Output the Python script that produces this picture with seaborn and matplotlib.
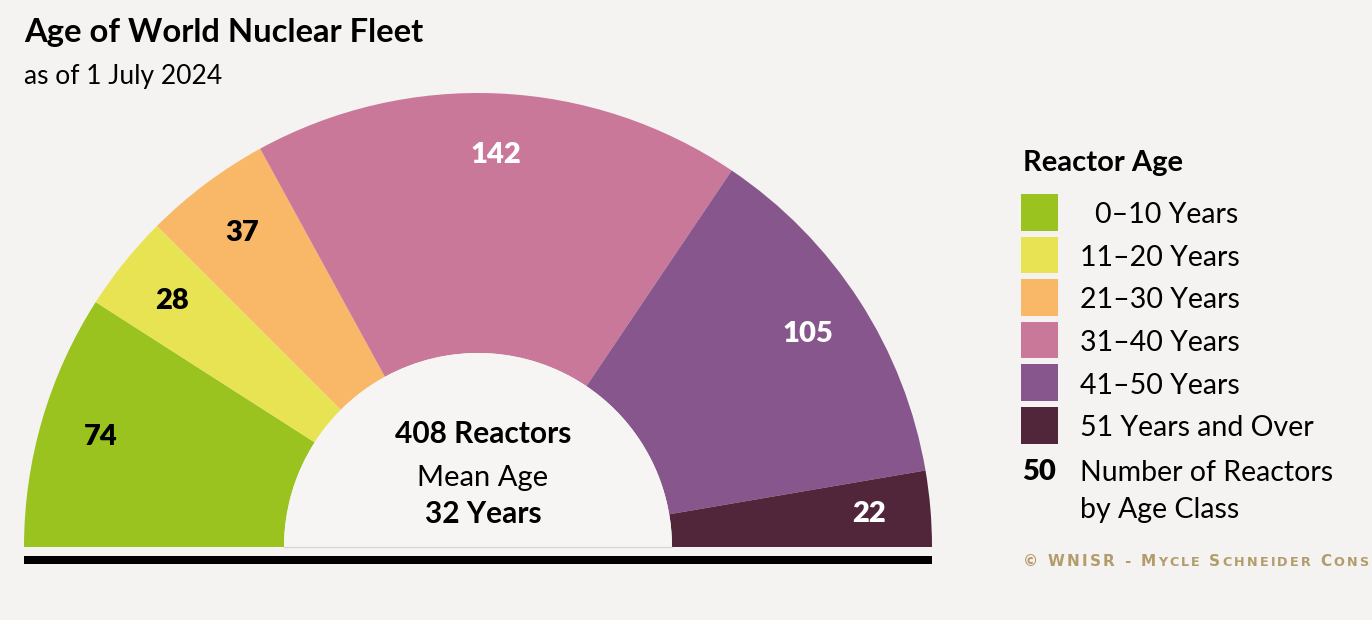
import matplotlib
matplotlib.use("Agg")
import matplotlib.pyplot as plt
from matplotlib.patches import Rectangle, Wedge
import numpy as np
import seaborn as sns

# data
age_classes = ["0–10 Years", "11–20 Years", "21–30 Years", "31–40 Years",
               "41–50 Years", "51 Years and Over"]
reactor_counts = [74, 28, 37, 142, 105, 22]
mean_age = 32
class_colors = ["#9bc31f", "#e8e352", "#f8b868", "#c97899", "#87568c", "#52263a"]
label_colors = ["black", "black", "black", "white", "white", "white"]

BG = "#f4f3f1"
GOLD = "#b39c6b"
W, H = 1372, 620

sns.set_theme(style="white")
plt.rcParams["font.family"] = ["Lato", "DejaVu Sans"]


def py(y):
    # pixel row (from top) -> data y
    return H - y


fig = plt.figure(figsize=(W / 100, H / 100), dpi=100, facecolor=BG)
ax = fig.add_axes([0, 0, 1, 1])
ax.set_facecolor(BG)

total = sum(reactor_counts)
cx, cy = 478, py(547)
r_out, r_in = 454, 194

wedges, _ = ax.pie(reactor_counts + [total], colors=class_colors + [BG],
                   startangle=180, counterclock=False, radius=r_out,
                   center=(cx, cy), frame=True,
                   wedgeprops=dict(width=r_out - r_in, linewidth=0))
wedges[-1].set_visible(False)

# inner half disc and baseline
ax.add_patch(Wedge((cx, cy), r_in, 0, 180, facecolor="#f6f5f3", edgecolor="none"))
ax.plot([cx - r_in, cx + r_in], [cy, cy], color="#d8d7d4", lw=1)
ax.add_patch(Rectangle((cx - r_out, py(564)), 2 * r_out, 8.5, color="black", lw=0))

for w, n, c in zip(wedges[:-1], reactor_counts, label_colors):
    ang = np.deg2rad((w.theta1 + w.theta2) / 2)
    rr = 0.865 * r_out
    ax.text(cx + rr * np.cos(ang), cy + rr * np.sin(ang), str(n), color=c,
            fontsize=21, fontweight="heavy", ha="center", va="center")

ax.text(483, py(434), f"{total} Reactors", fontsize=21.5, fontweight="bold",
        ha="center", va="center", color="black")
ax.text(483, py(478), "Mean Age", fontsize=21, fontweight="normal",
        ha="center", va="center", color="black")
ax.text(483, py(514), f"{mean_age} Years", fontsize=21.5, fontweight="bold",
        ha="center", va="center", color="black")

# titles
ax.text(24, py(42), "Age of World Nuclear Fleet", fontsize=23.6, fontweight="bold",
        ha="left", va="baseline", color="black")
ax.text(24, py(84), "as of 1 July 2024", fontsize=19, ha="left", va="baseline",
        color="black")

# legend
ax.text(1023, py(163), "Reactor Age", fontsize=21, fontweight="bold",
        ha="left", va="center", color="black")
sq, pitch, top0 = 36.5, 42.6, 194
for i, (lab, col) in enumerate(zip(age_classes, class_colors)):
    top = top0 + i * pitch
    ax.add_patch(Rectangle((1021, py(top + sq)), 37, sq, color=col, lw=0))
    lx = 1095 if i == 0 else 1080
    ax.text(lx, py(top + sq / 2 + 3), lab, fontsize=20.5, ha="left", va="center",
            color="black")
ax.text(1022, py(472), "50", fontsize=21, fontweight="heavy", ha="left",
        va="center", color="black")
ax.text(1080, py(473), "Number of Reactors", fontsize=20.5, ha="left",
        va="center", color="black")
ax.text(1080, py(510), "by Age Class", fontsize=20.5, ha="left", va="center",
        color="black")

ax.set_xlim(0, W)
ax.set_ylim(0, H)
ax.set_aspect("equal")
ax.axis("off")

# copyright line in small caps, running off the right edge as in the source
fig.canvas.draw()
renderer = fig.canvas.get_renderer()
credit = "© WNISR - Mycle Schneider Consulting"
x = 1023
for ch in credit:
    small = ch.islower()
    t = ax.text(x, py(566), ch.upper(), fontsize=9.2 if small else 11,
                family="DejaVu Sans", fontweight="bold", color=GOLD,
                ha="left", va="baseline")
    bb = t.get_window_extent(renderer)
    x = bb.x1 + 2.2

fig.savefig("out.png", dpi=100, facecolor=BG)
